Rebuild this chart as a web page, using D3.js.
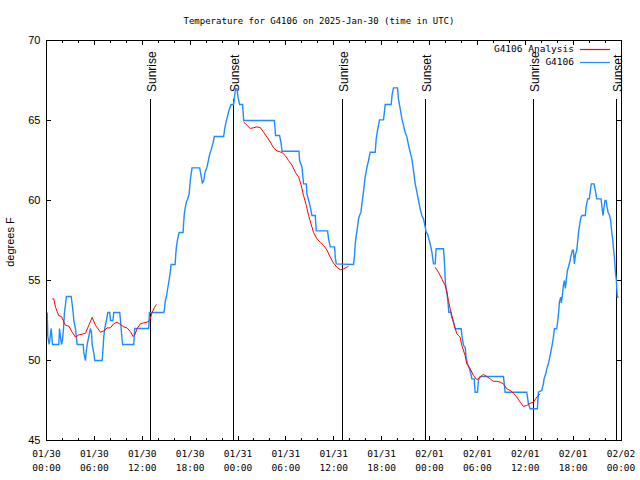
<!DOCTYPE html>
<html><head><meta charset="utf-8">
<script src="https://cdn.jsdelivr.net/npm/d3@7"></script>
<style>body{margin:0;background:#fff}</style>
</head><body><svg id="c" width="640" height="480"></svg>
<script>
const startTime = "2025-01-30T00:00:00Z";
const titleText = "Temperature for G4106 on 2025-Jan-30 (time in UTC)";
const yLabel = "degrees F";
const seriesNames = ["G4106 Analysis", "G4106"];
const yTicks = [45, 50, 55, 60, 65, 70];
const sunriseHours = [13.03, 37.10, 61.04];
const sunsetHours = [23.44, 47.50, 71.44];

// observed (G4106), hours since start
const obsHours = [0.09,0.16,0.34,0.59,0.75,1.54,1.63,1.75,1.88,2.00,2.13,2.25,2.38,2.50,3.09,3.22,3.34,3.42,3.63,3.84,4.60,4.67,4.88,4.97,5.10,5.30,5.51,5.64,5.72,5.92,6.05,6.97,7.05,7.18,7.30,7.51,7.68,7.93,8.01,8.33,8.43,9.18,9.27,9.48,9.55,10.93,11.06,12.81,12.90,14.69,
14.78,14.90,15.03,15.19,15.36,15.53,15.61,16.12,16.19,16.28,16.44,16.62,17.12,17.19,17.28,17.41,17.53,17.69,17.87,17.94,18.07,18.24,19.20,19.37,19.53,19.70,19.87,20.12,20.29,20.45,20.66,20.87,21.04,22.20,22.33,22.50,22.70,22.92,23.13,23.45,23.58,23.70,23.88,24.00,24.21,24.58,24.71,28.55,28.71,29.21,29.39,29.52,31.64,31.72,32.02,32.22,32.56,32.64,32.85,33.06,33.27,33.68,33.81,35.22,35.35,35.56,36.10,36.19,36.31,38.48,
38.61,38.69,38.82,38.98,39.11,39.23,39.41,39.53,39.66,39.82,39.94,40.16,40.36,40.57,41.20,41.32,41.49,41.74,42.24,42.32,42.45,43.20,43.33,43.49,43.99,44.11,44.33,44.54,44.74,44.95,45.17,45.37,45.58,45.79,45.99,46.21,46.42,46.62,46.83,47.04,47.25,47.46,47.58,47.75,47.92,48.08,48.30,48.50,48.71,48.83,49.75,49.87,50.00,50.17,50.30,50.42,50.67,50.80,51.00,51.22,51.97,52.09,52.26,52.47,52.59,52.76,52.97,53.18,53.31,53.60,53.72,54.01,54.13,54.35,57.27,57.48,60.19,60.40,60.61,61.52,
61.65,62.07,62.27,62.36,62.57,62.70,62.90,63.03,63.20,63.36,63.53,63.65,63.95,64.08,64.20,64.28,64.45,64.53,64.65,64.78,64.91,65.03,65.16,65.28,65.46,65.62,65.74,65.91,66.03,66.16,66.28,66.45,66.58,66.70,66.87,66.99,67.12,67.53,67.62,67.83,68.03,68.16,68.28,68.62,68.79,68.96,69.50,69.62,69.75,69.87,70.00,70.13,70.25,70.38,70.54,70.71,70.84,70.96,71.04,71.17,71.29,71.42,71.47,71.54,71.71];
const obsTemps = [53.0,51.5,51.0,52.0,51.0,51.0,52.0,51.5,51.0,51.25,52.0,53.0,53.5,54.0,54.0,53.5,53.0,52.5,52.0,51.0,51.0,50.5,50.0,50.5,51.0,51.5,52.0,51.75,51.0,50.5,50.0,50.0,50.5,51.5,52.0,52.5,53.0,53.0,52.5,52.5,53.0,53.0,52.5,51.25,51.0,51.0,52.0,52.0,53.0,53.0,
53.2,53.75,54.0,54.5,55.0,55.6,56.0,56.0,56.56,57.1,57.6,58.0,58.0,58.6,59.2,59.6,59.9,60.1,60.4,60.8,61.46,62.04,62.04,61.56,61.1,61.2,61.77,62.1,62.5,62.9,63.2,63.6,64.0,64.0,64.48,64.9,65.3,65.7,66.0,66.0,66.56,67.0,66.98,66.46,66.0,66.0,65.0,65.0,64.06,64.06,63.6,63.08,63.08,62.5,62.08,61.04,61.04,60.4,60.0,59.6,59.06,59.06,58.1,58.1,57.6,57.1,57.1,56.46,56.04,56.0,
56.6,57.3,57.8,58.33,58.85,59.06,59.27,59.8,60.3,60.94,61.46,62.08,62.5,63.02,63.02,63.85,64.4,65.04,65.04,65.4,66.0,66.0,66.67,67.04,67.04,66.35,65.73,65.1,64.7,64.27,63.96,63.44,63.02,62.6,61.88,61.04,60.52,60.0,59.48,59.06,58.85,58.33,58.02,57.92,57.6,57.3,56.77,56.04,56.04,56.98,56.98,56.15,54.79,54.27,53.75,53.02,53.02,52.7,52.4,51.98,51.98,51.46,50.94,50.83,50.2,49.79,49.58,49.17,48.85,48.85,48.02,48.02,48.75,49.0,49.0,48.02,48.02,47.29,46.98,46.98,
48.02,48.13,48.54,48.85,49.17,49.48,49.79,50.1,50.52,50.94,51.46,51.98,51.98,52.5,53.1,53.65,53.96,53.6,54.06,54.69,55.0,54.5,55.1,55.6,55.94,56.25,56.56,56.875,56.9,56.04,56.6,56.875,57.5,58.1,58.65,58.96,59.06,59.06,59.58,60.1,60.1,60.625,61.04,61.04,60.6,60.1,60.1,59.58,59.06,59.58,60.0,60.0,59.6,59.27,59.1,58.75,58.0,57.6,57.08,56.46,55.6,55.0,54.48,53.96,53.96];

// analysis (G4106 Analysis), null marks a gap
const anaHours = [0.71,0.91,1.13,1.54,1.88,2.09,2.38,2.79,3.22,3.63,4.04,4.47,4.88,5.30,5.72,6.14,6.76,7.18,7.60,8.01,8.43,8.85,9.27,9.68,10.10,10.52,10.86,11.06,11.36,11.77,12.18,12.61,12.94,13.24,13.52,13.77,
18.0,
24.71,25.13,25.55,25.96,26.38,26.80,27.21,27.64,28.05,28.46,28.89,29.52,29.93,30.34,30.77,31.18,31.60,31.93,32.22,32.56,32.85,33.15,33.47,33.90,34.31,34.72,35.15,35.56,35.98,36.40,36.81,37.23,37.65,37.85,
42.0,
48.71,49.12,49.55,49.96,50.17,50.37,50.59,50.80,51.00,51.42,51.84,52.05,52.47,52.68,53.10,53.51,53.93,54.35,54.76,55.19,55.60,56.01,56.44,56.85,57.27,57.69,58.10,58.52,58.94,59.36,59.77,60.19,60.61,61.02,61.45,61.86];
const anaTemps = [53.85,53.85,53.33,52.8,52.75,52.5,52.2,52.15,51.77,51.46,51.6,51.65,51.7,52.2,52.7,52.2,51.77,51.85,52.04,52.04,52.3,52.4,52.25,52.1,52.04,51.8,51.5,51.6,52.0,52.3,52.35,52.4,52.5,53.0,53.3,53.5,
null,
64.9,64.7,64.5,64.55,64.6,64.55,64.27,63.96,63.65,63.29,63.1,63.0,62.8,62.5,62.2,61.77,61.46,60.94,60.3,59.7,59.06,58.54,58.0,57.6,57.4,57.2,56.9,56.46,56.08,55.83,55.67,55.73,55.83,55.9,
null,
55.83,55.52,55.1,54.69,54.3,53.75,53.23,52.8,52.4,51.67,51.46,50.94,50.3,49.79,49.48,49.06,48.8,48.96,49.13,49.0,48.85,48.7,48.7,48.65,48.54,48.23,48.13,47.96,47.71,47.4,47.13,47.19,47.33,47.4,47.71,47.92];

const colors = {analysis: "#ff0000", obs: "#1e8cff"};
const mono = "'DejaVu Sans Mono', monospace";
const sans = "'Liberation Sans', Arial, sans-serif";

const t0 = new Date(startTime);
const toDate = h => new Date(t0.getTime() + h * 3600e3);

const L = 46.5, R = 621, T = 40.5, B = 440.5;
const x = d3.scaleUtc().domain([t0, toDate(72)]).range([L, R]);
const y = d3.scaleLinear().domain([45, 70]).range([B, T]);

const svg = d3.select("#c");

// title
svg.append("text").attr("x", 319).attr("y", 23.5).attr("text-anchor", "middle")
  .style("font-family", mono).style("font-size", "9px").text(titleText);

// clip
svg.append("clipPath").attr("id", "clip").append("rect")
  .attr("x", L).attr("y", T).attr("width", R - L).attr("height", B - T);

// x ticks (minor every 2h, major every 6h) bottom & top, inward
const minor = d3.utcHour.every(2).range(t0, toDate(72.01));
const major = d3.utcHour.every(6).range(t0, toDate(72.01));
const tickG = svg.append("g").attr("stroke", "#000").attr("stroke-width", 1).attr("shape-rendering", "crispEdges");
minor.forEach(d => {
  const len = (d.getUTCHours() % 6 === 0) ? 4.5 : 2.5;
  const xx = Math.round(x(d) - 0.5) + 0.5;
  tickG.append("line").attr("x1", xx).attr("x2", xx).attr("y1", B).attr("y2", B - len);
  tickG.append("line").attr("x1", xx).attr("x2", xx).attr("y1", T).attr("y2", T + len);
});
yTicks.forEach(v => {
  const yy = Math.round(y(v) - 0.5) + 0.5;
  tickG.append("line").attr("x1", L).attr("x2", L + 4.5).attr("y1", yy).attr("y2", yy);
  tickG.append("line").attr("x1", R).attr("x2", R - 4.5).attr("y1", yy).attr("y2", yy);
});

// x tick labels
const fmtD = d3.utcFormat("%m/%d"), fmtH = d3.utcFormat("%H:%M");
const xl = svg.append("g").style("font-family", mono).style("font-size", "9.5px").attr("text-anchor", "middle");
major.forEach(d => {
  const tx = xl.append("text").attr("x", x(d));
  tx.append("tspan").attr("x", x(d)).attr("y", 456.5).text(fmtD(d));
  tx.append("tspan").attr("x", x(d)).attr("y", 470.5).text(fmtH(d));
});

// y tick labels
const yl = svg.append("g").style("font-family", sans).style("font-size", "11px").attr("text-anchor", "end");
yTicks.forEach(v => {
  yl.append("text").attr("x", 40.5).attr("y", y(v)).attr("dy", "0.36em").text(v);
});

// y label
svg.append("text").attr("transform", "translate(14,242) rotate(-90)").attr("text-anchor", "middle")
  .style("font-family", sans).style("font-size", "11px").text(yLabel);

// sunrise/sunset lines and labels
const events = sunriseHours.map(h => ({h, label: "Sunrise"}))
  .concat(sunsetHours.map(h => ({h, label: "Sunset"})));
const evG = svg.append("g");
events.forEach(e => {
  const xx = Math.round(x(toDate(e.h)) - 0.5) + 0.5;
  evG.append("line").attr("x1", xx).attr("x2", xx).attr("y1", 99).attr("y2", B)
    .attr("stroke", "#000").attr("stroke-width", 1.2).attr("shape-rendering", "crispEdges");
  evG.append("text").attr("transform", `translate(${xx + 5},92) rotate(-90)`)
    .attr("text-anchor", "start").style("font-family", sans).style("font-size", "12px").text(e.label);
});

// data lines
const plot = svg.append("g").attr("clip-path", "url(#clip)");
const lineGen = d3.line().defined(d => d[1] !== null).x(d => x(toDate(d[0]))).y(d => y(d[1]));
const anaData = anaHours.map((h, i) => [h, anaTemps[i]]);
const obsData = obsHours.map((h, i) => [h, obsTemps[i]]);
plot.append("path").datum(obsData).attr("d", lineGen).attr("fill", "none")
  .attr("stroke", colors.obs).attr("stroke-width", 1.4).attr("stroke-linejoin", "miter");
plot.append("path").datum(anaData).attr("d", lineGen).attr("fill", "none")
  .attr("stroke", colors.analysis).attr("stroke-width", 1);

// border
svg.append("rect").attr("x", L).attr("y", T).attr("width", R - L).attr("height", B - T)
  .attr("fill", "none").attr("stroke", "#000").attr("stroke-width", 1).attr("shape-rendering", "crispEdges");

// legend
const lg = svg.append("g").style("font-family", mono).style("font-size", "9.5px");
[[seriesNames[0], colors.analysis, 49], [seriesNames[1], colors.obs, 62]].forEach(([name, c, yy]) => {
  lg.append("text").attr("x", 574).attr("y", yy).attr("dy", "0.35em").attr("text-anchor", "end").text(name);
  lg.append("line").attr("x1", 580).attr("x2", 610).attr("y1", yy + 0.5).attr("y2", yy + 0.5)
    .attr("stroke", c).attr("stroke-width", 1.2);
});
</script>
</body></html>
